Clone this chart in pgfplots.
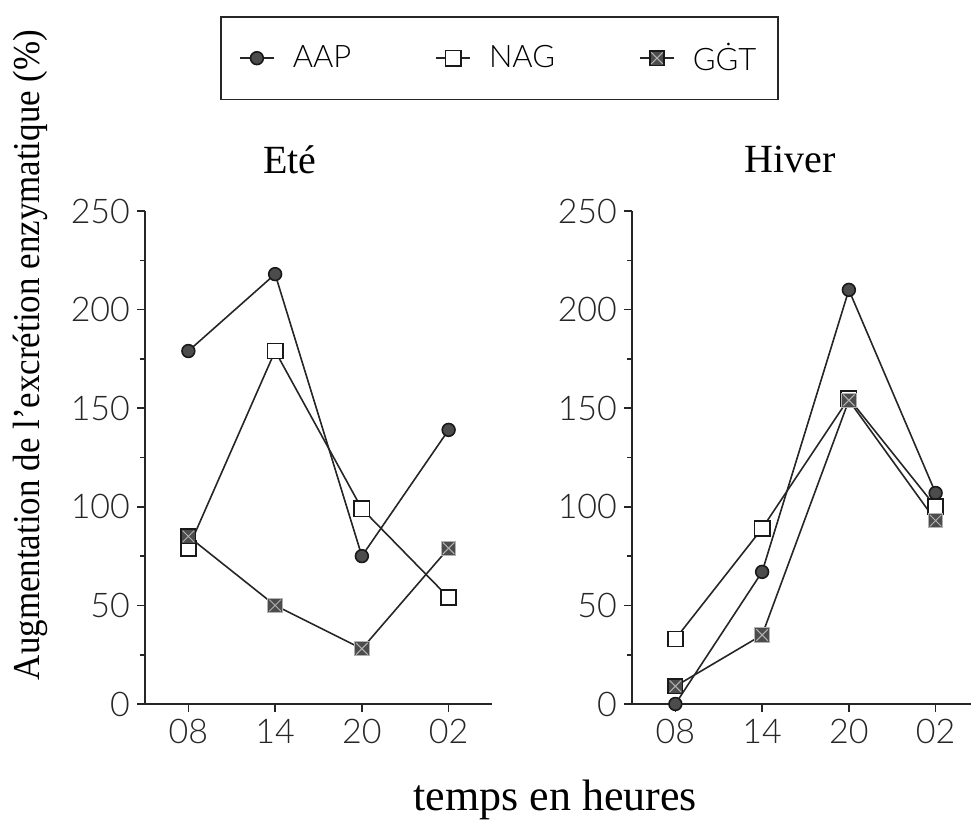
\documentclass[border=0pt]{standalone}
\usepackage{fontspec}
\setmainfont{Liberation Serif}
\newfontfamily\tickfont{Lato Light}
\newfontfamily\condserif{Liberation Serif}[FakeStretch=0.92]
\usepackage{pgfplots}
\pgfplotsset{compat=1.18}

% values read off the scan, hours 08 14 20 02 at x = 0 1 2 3
\pgfplotstableread{
x aap nag ggt
0 179 79 85
1 218 179 50
2 75 99 28
3 139 54 79
}\ete
\pgfplotstableread{
x aap nag ggt
0 0 33 9
1 67 89 35
2 210 155 154
3 107 100 93
}\hiver

% dark square with a light cross, like the GGT symbol of the scan
\pgfdeclareplotmark{sqx}{%
  \pgfpathrectangle{\pgfqpoint{-\pgfplotmarksize}{-\pgfplotmarksize}}%
    {\pgfqpoint{2\pgfplotmarksize}{2\pgfplotmarksize}}%
  \pgfusepathqfillstroke
  \pgfpathmoveto{\pgfqpoint{-0.8\pgfplotmarksize}{-0.8\pgfplotmarksize}}%
  \pgfpathlineto{\pgfqpoint{0.8\pgfplotmarksize}{0.8\pgfplotmarksize}}%
  \pgfpathmoveto{\pgfqpoint{-0.8\pgfplotmarksize}{0.8\pgfplotmarksize}}%
  \pgfpathlineto{\pgfqpoint{0.8\pgfplotmarksize}{-0.8\pgfplotmarksize}}%
  \pgfsetstrokecolor{black!30}\pgfsetlinewidth{0.5pt}%
  \pgfusepathqstroke
}

\pgfplotsset{
  panel/.style={
    scale only axis, height=246.5pt,
    xmin=-0.5, ymin=0, ymax=250,
    axis x line*=bottom, axis y line*=left,
    axis line style={-, line width=0.8pt, black!85},
    xtick={0,1,2,3}, xticklabels={08,14,20,02},
    ytick={0,50,...,250}, minor y tick num=1,
    tick align=outside, major tick length=4pt, minor tick length=2.5pt,
    tick style={line width=0.8pt, black!85},
    ticklabel style={font=\tickfont\fontsize{17}{17}\selectfont, black!85},
    /pgf/number format/assume math mode=true,
    clip=false,
    title style={font=\fontsize{20}{20}\selectfont, anchor=center},
  },
  aap/.style={black!85, line width=0.8pt, mark=*, mark size=3.2pt,
    mark options={fill=black!70, draw=black!90}},
  nag/.style={black!85, line width=0.8pt, mark=square*, mark size=3.8pt,
    mark options={fill=white, draw=black!90}},
  ggt/.style={black!85, line width=0.8pt, mark=sqx, mark size=3.6pt,
    mark options={fill=black!70, draw=black!90}},
}

\begin{document}
\begin{tikzpicture}
\path[use as bounding box] (0,0) rectangle (485.5pt,410.5pt);

\begin{axis}[panel,
  at={(72.5pt,58.5pt)}, anchor=south west,
  width=173.5pt, xmax=3.5,
  title={Eté}, title style={at={(axis description cs:0.418,1.08)}},
  ylabel={\condserif Augmentation de l’excrétion enzymatique (\%)},
  ylabel style={at={(axis description cs:-0.331,0.708)}, anchor=center,
    font=\fontsize{19}{19}\selectfont},
  xlabel={temps en heures},
  xlabel style={at={(axis description cs:1.182,-0.195)}, anchor=center,
    font=\fontsize{22}{22}\selectfont},
  legend columns=3,
  legend style={at={(axis description cs:1.022,1.31)}, anchor=center,
    draw=black!85, line width=0.8pt,
    font=\tickfont\fontsize{15.5}{15.5}\selectfont,
    inner xsep=9pt, inner ysep=11pt,
    /tikz/every odd column/.append style={column sep=7pt},
    /tikz/every even column/.append style={column sep=40pt}},
]
\addplot[aap] table[x=x, y=aap] {\ete};
\addlegendentry{AAP}
\addplot[nag] table[x=x, y=nag] {\ete};
\addlegendentry{NAG}
\addplot[ggt] table[x=x, y=ggt] {\ete};
\addlegendentry{GĠT}
\end{axis}

\begin{axis}[panel,
  at={(316pt,58.5pt)}, anchor=south west,
  width=169.5pt, xmax=3.408,
  title={Hiver}, title style={at={(axis description cs:0.466,1.08)}},
]
\addplot[aap] table[x=x, y=aap] {\hiver};
\addplot[nag] table[x=x, y=nag] {\hiver};
\addplot[ggt] table[x=x, y=ggt] {\hiver};
\end{axis}
\end{tikzpicture}
\end{document}
